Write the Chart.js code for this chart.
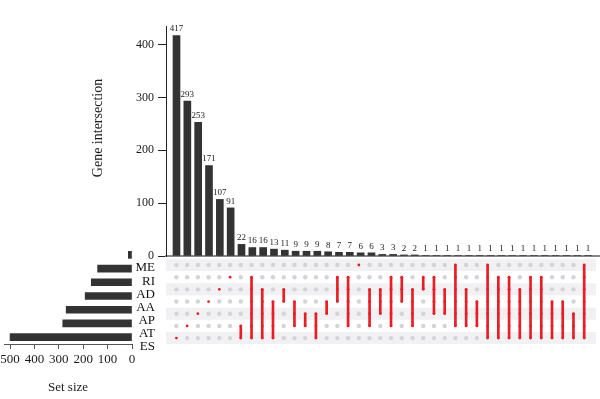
<!DOCTYPE html>
<html>
<head>
<meta charset="utf-8">
<script src="https://cdn.jsdelivr.net/npm/chart.js@4.4.0/dist/chart.umd.min.js"></script>
<style>
  body { margin: 0; background: #fff; }
  .wrap { position: relative; width: 600px; height: 399px; }
  canvas { position: absolute; left: 0; top: 0; }
</style>
</head>
<body>
<div class="wrap">
  <canvas id="sizes" width="600" height="399"></canvas>
  <canvas id="inter" width="600" height="399"></canvas>
  <canvas id="matrix" width="600" height="399"></canvas>
</div>
<script>
// sets (matrix rows, top to bottom) and their sizes
const setNames = ['ME', 'RI', 'AD', 'AA', 'AP', 'AT', 'ES'];
const setSizes = [15, 141, 167, 192, 270, 284, 500];

// intersection sizes, one per column
const counts = [417, 293, 253, 171, 107, 91, 22, 16, 16, 13, 11, 9, 9, 9, 8, 7, 7, 6, 6, 3, 3, 2, 2,
  1, 1, 1, 1, 1, 1, 1, 1, 1, 1, 1, 1, 1, 1, 1, 1];

// which sets make up each column
const members = [
  'ES', 'AT', 'AP', 'AA', 'AD', 'RI',
  'AT ES', 'RI AD AA AP AT ES', 'AD AA AP AT ES', 'AA AP AT ES', 'AD AA', 'AA AP AT',
  'AP AT', 'AP AT ES', 'AA AP', 'RI AD AA', 'RI AD AA AP AT', 'ME', 'AD AA AP AT',
  'AD AA AP', 'RI AD AA AP AT', 'RI AD AA', 'AD AA AP AT', 'RI AD', 'RI AD AA AP',
  'AD AA AP', 'ME RI AD AA AP AT', 'AD AA AP AT', 'AA AP AT', 'ME RI AD AA AP AT ES',
  'RI AD AA AP AT ES', 'RI AD AA AP AT ES', 'AD AA AP AT ES', 'RI AD AA AP AT ES',
  'RI AD AA AP AT ES', 'AA AP AT ES', 'AA AP AT ES', 'AP AT ES', 'ME RI AD AA AP AT ES'
];

const sizeTicks = [0, 100, 200, 300, 400, 500];

const serif = "'Liberation Serif', 'DejaVu Serif', serif";
const dark = '#333333';
const red = '#ec1c24';
Chart.defaults.font.family = serif;
Chart.defaults.color = '#1a1a1a';

const colMin = -0.97, colMax = 39.1;

// numbers above the intersection bars
const valueLabels = {
  id: 'valueLabels',
  afterDatasetsDraw(chart) {
    const ctx = chart.ctx;
    const meta = chart.getDatasetMeta(0);
    ctx.save();
    ctx.font = '9px ' + serif;
    ctx.fillStyle = '#1a1a1a';
    ctx.textAlign = 'center';
    ctx.textBaseline = 'bottom';
    meta.data.forEach((bar, i) => {
      ctx.fillText(String(counts[i]), bar.x, bar.y - 2);
    });
    ctx.restore();
  }
};

const sideTitle = {
  id: 'sideTitle',
  afterDraw(chart) {
    const ctx = chart.ctx;
    ctx.save();
    ctx.translate(98, 128);
    ctx.rotate(-Math.PI / 2);
    ctx.font = '14px ' + serif;
    ctx.fillStyle = '#1a1a1a';
    ctx.textAlign = 'center';
    ctx.textBaseline = 'middle';
    ctx.fillText('Gene intersection', 0, 0);
    ctx.restore();
  }
};

new Chart(document.getElementById('inter'), {
  type: 'bar',
  data: {
    datasets: [{
      data: counts.map((v, i) => ({ x: i, y: v })),
      backgroundColor: dark,
      barThickness: 7
    }]
  },
  options: {
    responsive: false,
    animation: false,
    events: [],
    layout: { padding: { left: 88, top: 26, right: 0, bottom: 143 } },
    plugins: { legend: { display: false }, tooltip: { enabled: false } },
    scales: {
      x: {
        type: 'linear', min: colMin, max: colMax, offset: false,
        ticks: { display: false },
        grid: { display: false },
        border: { color: '#888', width: 2 },
        afterFit: s => { s.height = 0; }
      },
      y: {
        min: 0, max: 435,
        ticks: { stepSize: 100, includeBounds: false, font: { size: 12 }, padding: 4 },
        grid: { drawOnChartArea: false, tickLength: 8, color: '#222' },
        border: { color: '#222' },
        afterFit: s => { s.width = 78; }
      }
    }
  },
  plugins: [valueLabels, sideTitle]
});

new Chart(document.getElementById('sizes'), {
  type: 'bar',
  data: {
    labels: setNames,
    datasets: [{ data: setSizes, backgroundColor: dark, barThickness: 7 }]
  },
  options: {
    indexAxis: 'y',
    responsive: false,
    animation: false,
    events: [],
    layout: { padding: { left: 4, right: 468, top: 248, bottom: 0 } },
    plugins: { legend: { display: false }, tooltip: { enabled: false } },
    scales: {
      x: {
        reverse: true, min: 0, max: 525,
        afterBuildTicks: s => { s.ticks = sizeTicks.map(v => ({ value: v })); },
        ticks: { font: { size: 13 }, padding: 3, maxRotation: 0, autoSkip: false },
        grid: { drawOnChartArea: false, tickLength: 5, color: '#555' },
        border: { color: '#555' },
        title: { display: true, text: 'Set size', font: { size: 13 }, padding: { top: 4, bottom: 4 } },
        afterFit: s => { s.height = 55; }
      },
      y: { display: false }
    }
  }
});

// matrix: grey dots, red members, red connecting lines
const greyPts = [], redPts = [], links = [];
members.forEach((m, i) => {
  const rows = m.split(' ').map(n => setNames.indexOf(n));
  setNames.forEach((n, r) => {
    if (rows.includes(r)) redPts.push({ x: i, y: r });
    else greyPts.push({ x: i, y: r });
  });
  if (rows.length > 1) links.push({ x: i, y: [Math.min(...rows), Math.max(...rows)] });
});

const stripes = {
  id: 'stripes',
  beforeDatasetsDraw(chart) {
    const { ctx, chartArea } = chart;
    const ys = chart.scales.y;
    ctx.save();
    ctx.fillStyle = '#f1f1f4';
    setNames.forEach((n, r) => {
      if (r % 2) return;
      const y0 = ys.getPixelForValue(r - 0.5);
      const y1 = ys.getPixelForValue(r + 0.5);
      ctx.fillRect(chartArea.left, y0, chartArea.right - chartArea.left, y1 - y0);
    });
    ctx.restore();
  }
};

new Chart(document.getElementById('matrix'), {
  type: 'bar',
  data: {
    datasets: [
      { type: 'scatter', data: greyPts, pointRadius: 2.2, backgroundColor: '#d4d4d6', borderWidth: 0, order: 3 },
      { type: 'bar', data: links, backgroundColor: red, barThickness: 2, order: 2 },
      { type: 'scatter', data: redPts, pointRadius: 1.4, backgroundColor: red, borderWidth: 0, order: 1 }
    ]
  },
  options: {
    responsive: false,
    animation: false,
    events: [],
    layout: { padding: { left: 132, top: 257, right: 0, bottom: 39 } },
    plugins: { legend: { display: false }, tooltip: { enabled: false } },
    scales: {
      x: { type: 'linear', min: colMin, max: colMax, offset: false, display: false },
      y: { type: 'linear', reverse: true, min: -0.657, max: 7.8, display: false },
      yl: {
        type: 'linear', position: 'left', reverse: true, min: -0.835, max: 7.0,
        afterBuildTicks: s => { s.ticks = setNames.map((n, i) => ({ value: i })); },
        ticks: { callback: v => setNames[v], font: { size: 13 }, padding: 3, color: '#111', autoSkip: false },
        grid: { display: false },
        border: { display: false },
        afterFit: s => { s.width = 34; }
      }
    }
  },
  plugins: [stripes]
});
</script>
</body>
</html>
